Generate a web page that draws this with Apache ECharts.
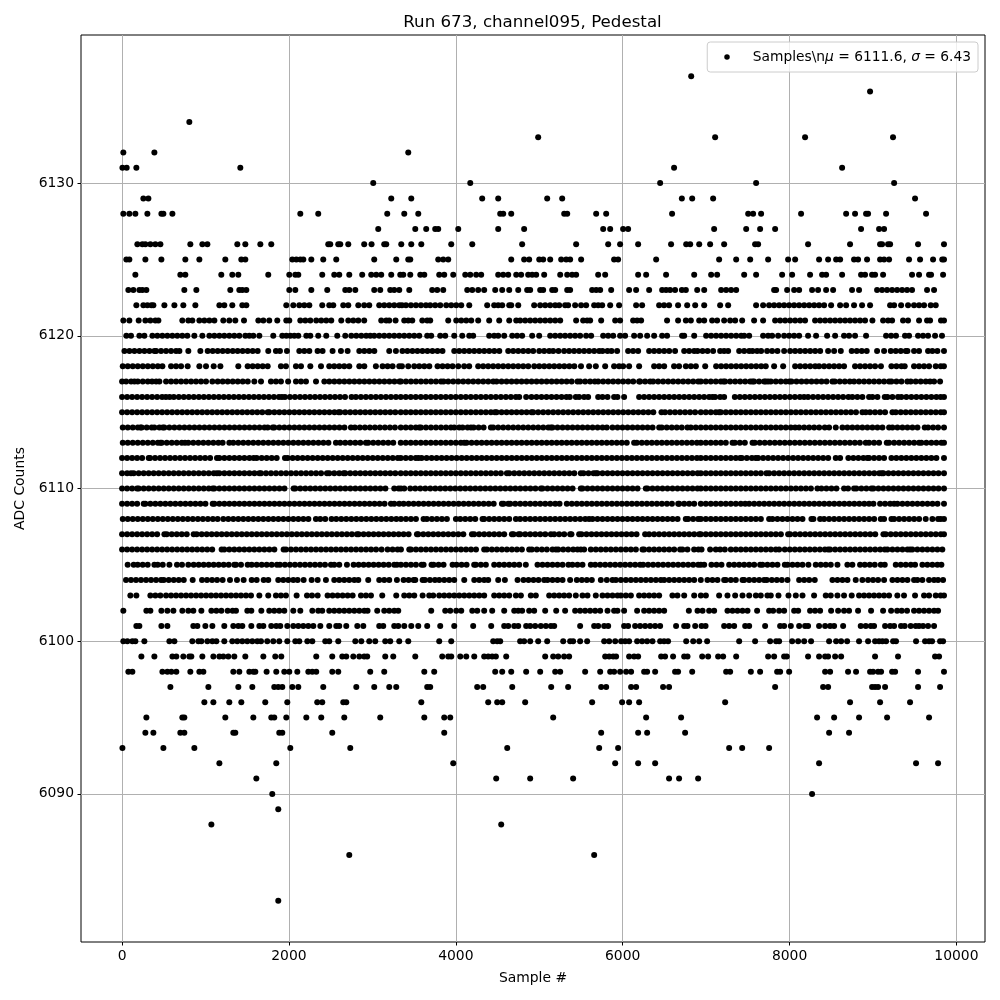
<!DOCTYPE html>
<html>
<head>
<meta charset="utf-8">
<title>Run 673, channel095, Pedestal</title>
<script src="https://cdn.jsdelivr.net/npm/echarts@6/dist/echarts.min.js"></script>
<style>
html,body{margin:0;padding:0;background:#fff;}
#chart{width:1000px;height:1000px;}
</style>
</head>
<body>
<div id="chart"></div>
<script>
// sample positions, one list per ADC level
var adc6137 = [6821];
var adc6136 = [8965];
var adc6134 = [806];
var adc6133 = [4987,7108,8186,9240];
var adc6132 = [15,387,3430];
var adc6131 = [4,55,171,1417,6616,8630];
var adc6130 = [3010,4173,6449,7599,9253];
var adc6129 = [255,315,3226,3466,4316,4508,5095,5275,6709,6833,7084,9504];
var adc6128 = [15,87,159,303,471,495,603,2136,2351,3178,3382,3550,4532,4568,4664,5299,5335,5682,5802,6592,7504,7563,7659,8138,8678,8785,8917,8941,9157,9636];
var adc6127 = [3070,3514,3645,3753,3789,4029,4508,4819,5766,5850,6005,6065,7096,7480,7647,7827,8857,9073,9133];
var adc6126 = [183,243,279,339,399,459,818,962,1022,1381,1477,1657,1788,2471,2495,2591,2615,2711,2902,2990,3142,3166,3346,3466,3586,3945,4197,4795,5442,5826,5969,6185,6580,6761,6809,6917,7048,7216,7587,7623,8222,8725,9085,9109,9181,9205,9540,9851];
var adc6125 = [51,87,279,471,758,926,1237,1429,1477,2040,2088,2136,2172,2268,2411,2567,3022,3286,3430,3454,3789,3849,3909,4664,4819,4879,5000,5047,5131,5263,5323,5370,5502,5897,5945,6401,7156,7360,7528,7743,7983,8067,8354,8462,8558,8606,8773,8821,8929,9085,9133,9193,9432,9564,9720,9830,9851];
var adc6124 = [159,698,758,1189,1321,1393,1752,2004,2076,2112,2399,2543,2603,2723,2878,2986,3046,3106,3226,3334,3370,3454,3574,3622,3801,3861,3969,4113,4173,4244,4304,4508,4568,4628,4724,4783,4867,4915,4963,5059,5251,5335,5394,5442,5706,5790,6185,6281,6520,6857,7060,7132,7456,7599,7911,8031,8246,8390,8438,8630,8857,8905,8989,9025,9121,9468,9552,9672,9696,9840];
var adc6123 = [75,135,207,243,291,746,890,1297,1405,1441,1489,2004,2076,2268,2459,2675,2723,2795,3022,3094,3214,3262,3322,3442,3717,3777,3849,4137,4197,4268,4340,4472,4556,4640,4748,4855,4891,5011,5047,5155,5191,5335,5370,5634,5682,5730,5862,6077,6161,6317,6473,6520,6568,6628,6709,6757,6893,6977,7180,7240,7300,7360,7815,7839,7971,8055,8115,8270,8342,8438,8522,8749,8833,9049,9109,9169,9229,9289,9349,9408,9468,9648,9732];
var adc6122 = [171,255,303,351,375,507,627,734,878,1166,1225,1321,1441,1489,1968,2052,2124,2184,2244,2399,2483,2531,2651,2711,2831,2902,2962,3082,3142,3202,3262,3322,3354,3402,3462,3522,3582,3642,3693,3753,3813,3885,3945,4005,4065,4161,4376,4460,4508,4556,4640,4664,4748,4939,5011,5071,5131,5191,5239,5310,5346,5430,5502,5562,5658,5706,5754,5850,5957,6161,6233,6437,6496,6556,6664,6773,6869,6977,7168,7264,7599,7683,7755,7815,7875,7935,7995,8055,8115,8175,8235,8295,8354,8414,8498,8606,8678,8773,8869,8965,9205,9253,9337,9420,9492,9552,9612,9692,9752];
var adc6121 = [15,87,199,279,339,399,435,722,794,842,926,986,1046,1106,1213,1285,1357,1461,1633,1693,1764,1860,1968,2004,2136,2196,2256,2327,2387,2447,2507,2627,2711,2771,2831,2902,3106,3166,3202,3278,3382,3430,3478,3598,3657,3693,3909,4005,4065,4125,4185,4268,4400,4520,4640,4724,4771,4831,4891,4951,5011,5071,5131,5191,5251,5442,5526,5574,5610,5742,5910,5969,6125,6173,6221,6532,6664,6757,6817,6917,6977,7072,7132,7216,7288,7348,7432,7575,7683,7827,7887,7947,8007,8067,8127,8186,8306,8366,8426,8486,8546,8606,8666,8725,8785,8845,8905,8993,9121,9181,9229,9360,9420,9552,9648,9684,9815,9851];
var adc6120 = [51,107,207,267,363,423,483,543,603,662,722,782,866,962,1046,1106,1166,1225,1285,1345,1405,1477,1525,1573,1645,1812,1920,1968,2016,2064,2112,2208,2256,2351,2447,2579,2675,2747,2807,2867,2926,2974,3022,3082,3142,3202,3262,3322,3382,3442,3502,3562,3657,3705,3813,3873,3981,4077,4161,4208,4400,4460,4508,4580,4676,4735,4795,4915,4999,5131,5191,5251,5310,5370,5430,5490,5562,5622,5766,5826,5886,5969,6029,6137,6209,6293,6377,6473,6532,6712,6737,6857,7000,7060,7120,7180,7240,7300,7360,7420,7456,7516,7683,7743,7791,7863,7935,7995,8055,8115,8222,8318,8450,8546,8653,8713,8785,8917,9157,9217,9276,9384,9432,9540,9600,9660,9744,9827];
var adc6119 = [28,88,148,208,268,328,388,408,467,527,587,647,687,794,938,1026,1086,1146,1206,1266,1326,1385,1445,1505,1565,1625,1752,1844,1892,1976,2124,2184,2244,2343,2403,2523,2623,2703,2843,2903,2963,3023,3202,3282,3360,3420,3480,3540,3600,3660,3720,3780,3840,3981,4041,4101,4161,4221,4281,4341,4401,4461,4521,4628,4688,4748,4808,4868,4927,5000,5059,5119,5167,5231,5298,5358,5418,5478,5538,5598,5658,5718,5758,5818,5866,5933,6065,6125,6185,6317,6377,6437,6497,6557,6628,6737,6797,6857,6897,6957,7017,7084,7168,7216,7264,7396,7456,7516,7556,7611,7659,7731,7791,7855,7935,8007,8067,8127,8187,8247,8307,8367,8462,8534,8614,8745,8805,8865,8925,9049,9133,9213,9273,9333,9393,9413,9492,9552,9660,9712,9772,9851];
var adc6118 = [8,68,128,188,248,308,368,428,483,587,647,707,786,926,1006,1098,1178,1393,1505,1565,1625,1685,1745,1904,1964,2084,2144,2256,2384,2483,2543,2603,2663,2723,2843,2903,3042,3122,3182,3242,3322,3354,3430,3502,3562,3622,3682,3781,3841,3901,3961,4029,4100,4160,4268,4328,4388,4448,4508,4568,4628,4688,4748,4808,4868,4940,5000,5060,5120,5180,5240,5300,5360,5420,5500,5598,5678,5790,5897,5957,6005,6077,6197,6377,6437,6497,6616,6676,6757,6817,6877,6989,7120,7180,7240,7300,7360,7420,7480,7540,7600,7660,7715,7815,7923,8067,8127,8187,8247,8307,8354,8414,8474,8534,8594,8653,8785,8845,8905,8965,9025,9095,9221,9281,9341,9380,9492,9552,9612,9672,9752,9812,9850];
var adc6117 = [0,48,108,148,188,248,308,359,408,447,527,587,647,707,767,827,886,946,1006,1082,1146,1206,1266,1326,1386,1446,1506,1585,1665,1784,1844,1904,1990,2084,2144,2204,2324,2424,2484,2544,2604,2664,2724,2784,2844,2904,2964,3024,3084,3144,3204,3264,3324,3342,3402,3462,3522,3582,3642,3702,3762,3822,3853,3909,3969,4029,4089,4149,4209,4269,4329,4389,4449,4488,4548,4608,4668,4728,4788,4848,4908,4968,5028,5088,5148,5208,5268,5328,5388,5458,5490,5550,5610,5666,5706,5766,5826,5886,5946,6006,6066,6126,6197,6209,6269,6329,6365,6425,6485,6545,6605,6665,6725,6785,6845,6905,6936,6996,7056,7116,7176,7208,7228,7288,7348,7408,7468,7528,7556,7575,7635,7695,7715,7743,7775,7835,7895,7955,7999,8023,8083,8143,8203,8263,8323,8383,8443,8514,8542,8602,8662,8722,8773,8833,8893,8953,9013,9073,9133,9193,9221,9281,9341,9412,9452,9512,9572,9632,9684,9732,9804];
var adc6116 = [0,60,120,180,240,300,360,420,480,525,570,620,680,740,800,860,920,980,1040,1100,1160,1220,1280,1340,1400,1460,1520,1580,1640,1700,1760,1820,1880,1916,1952,2012,2072,2132,2192,2252,2312,2372,2432,2492,2552,2612,2672,2750,2802,2862,2922,2982,3042,3102,3162,3222,3282,3340,3400,3460,3520,3580,3640,3700,3760,3820,3880,3940,4000,4060,4120,4180,4240,4300,4360,4420,4480,4540,4600,4660,4720,4760,4843,4907,4967,5027,5087,5147,5207,5267,5326,5366,5438,5478,5538,5586,5706,5758,5818,5897,5937,6017,6197,6257,6317,6377,6437,6497,6557,6617,6677,6737,6797,6857,6917,6976,7036,7076,7108,7168,7216,7344,7404,7464,7524,7584,7644,7704,7764,7824,7884,7944,8004,8064,8124,8174,8222,8282,8342,8402,8462,8522,8582,8642,8706,8753,8813,8873,8953,8993,9053,9141,9173,9233,9300,9340,9400,9460,9520,9580,9640,9700,9760,9811,9851];
var adc6115 = [0,60,120,180,240,300,360,420,480,540,600,660,720,780,840,900,960,1020,1080,1140,1200,1260,1320,1380,1440,1500,1560,1620,1680,1745,1765,1825,1885,1945,2005,2065,2125,2185,2245,2305,2365,2425,2485,2545,2595,2615,2675,2735,2795,2855,2915,2975,3035,3095,3155,3215,3275,3340,3400,3460,3520,3580,3640,3700,3760,3820,3880,3940,4000,4060,4120,4180,4240,4300,4360,4420,4468,4488,4548,4608,4668,4728,4788,4848,4907,4927,4987,5047,5107,5167,5227,5287,5347,5407,5467,5527,5587,5647,5707,5767,5827,5887,5947,6007,6067,6127,6187,6247,6307,6367,6465,6508,6568,6628,6688,6748,6808,6868,6936,6996,7056,7116,7156,7176,7236,7296,7356,7416,7476,7536,7596,7656,7716,7776,7836,7896,7956,8016,8076,8136,8196,8256,8316,8376,8436,8496,8556,8616,8676,8736,8796,8873,8913,8965,9025,9085,9145,9233,9273,9333,9393,9453,9513,9573,9633,9693,9753,9813,9851];
var adc6114 = [8,68,128,188,220,235,295,355,387,447,487,507,567,627,687,747,807,867,927,987,1047,1107,1167,1227,1287,1347,1407,1467,1527,1587,1647,1707,1745,1805,1825,1885,1945,2005,2065,2125,2185,2245,2305,2365,2425,2485,2545,2605,2665,2743,2790,2850,2910,2970,3030,3090,3150,3210,3270,3340,3400,3460,3520,3562,3582,3642,3702,3762,3822,3882,3941,3981,4041,4081,4141,4181,4213,4273,4333,4420,4448,4508,4568,4628,4688,4748,4808,4868,4928,4988,5048,5108,5139,5159,5219,5279,5339,5399,5459,5519,5579,5639,5699,5759,5810,5878,5938,5998,6058,6118,6178,6238,6298,6358,6437,6468,6528,6588,6648,6708,6776,6816,6876,6936,6996,7056,7116,7176,7236,7296,7356,7416,7476,7536,7596,7656,7716,7776,7836,7895,7955,8015,8067,8115,8175,8235,8295,8355,8422,8474,8554,8634,8693,8753,8813,8873,8933,8993,9053,9113,9193,9233,9293,9353,9413,9473,9533,9620,9660,9720,9780,9851];
var adc6113 = [8,68,128,188,248,308,368,428,459,475,535,595,655,715,754,794,854,914,974,1034,1094,1154,1205,1285,1333,1393,1453,1513,1573,1633,1693,1753,1813,1873,1933,1993,2053,2113,2173,2233,2293,2353,2413,2473,2563,2615,2675,2735,2795,2855,2922,2950,3010,3070,3130,3190,3250,3340,3400,3460,3520,3580,3640,3700,3760,3820,3880,3940,4000,4060,4101,4129,4189,4249,4309,4369,4429,4489,4549,4609,4669,4729,4789,4849,4909,4969,5029,5089,5149,5209,5269,5329,5389,5449,5509,5569,5629,5689,5749,5809,5869,5929,5989,6049,6137,6169,6229,6289,6349,6409,6469,6529,6589,6649,6709,6769,6829,6889,6936,6996,7056,7116,7176,7236,7316,7344,7404,7464,7556,7583,7643,7703,7763,7823,7883,7943,8003,8063,8123,8183,8243,8303,8363,8423,8483,8543,8603,8663,8723,8783,8843,8913,8953,9013,9073,9165,9193,9253,9313,9373,9433,9493,9552,9580,9640,9700,9760,9820,9851];
var adc6112 = [0,60,120,180,240,319,335,395,455,515,575,635,695,755,815,875,935,995,1055,1137,1166,1226,1286,1346,1406,1466,1526,1577,1613,1673,1733,1793,1853,1952,1984,2044,2104,2164,2224,2284,2344,2404,2464,2524,2584,2644,2704,2764,2824,2884,2944,3004,3064,3124,3184,3244,3304,3340,3400,3460,3520,3553,3590,3650,3710,3770,3830,3890,3950,4010,4070,4130,4190,4250,4310,4370,4430,4490,4550,4610,4670,4730,4790,4850,4910,4970,5030,5090,5150,5210,5270,5330,5390,5450,5510,5570,5630,5690,5750,5810,5870,5930,5990,6050,6110,6170,6230,6290,6350,6410,6470,6530,6590,6650,6710,6770,6830,6890,6936,6996,7056,7116,7176,7236,7296,7356,7408,7428,7488,7548,7595,7623,7683,7743,7803,7863,7923,7983,8043,8103,8163,8223,8283,8343,8403,8463,8554,8606,8705,8765,8825,8885,8933,8953,9013,9073,9133,9221,9280,9340,9400,9460,9520,9580,9640,9700,9760,9851];
var adc6111 = [0,60,107,139,199,259,319,379,439,499,559,619,679,739,799,859,919,979,1039,1099,1137,1166,1226,1286,1346,1406,1466,1526,1586,1645,1665,1725,1785,1845,1905,1965,2025,2085,2145,2205,2265,2325,2385,2455,2483,2543,2603,2655,2675,2735,2795,2855,2915,2975,3035,3095,3155,3215,3275,3340,3400,3460,3520,3580,3640,3700,3760,3820,3880,3940,4000,4060,4120,4180,4240,4300,4360,4420,4480,4540,4612,4640,4700,4760,4820,4880,4940,5000,5060,5120,5180,5240,5300,5360,5420,5498,5530,5590,5650,5678,5698,5758,5818,5878,5938,5998,6058,6118,6178,6238,6298,6358,6418,6478,6538,6598,6658,6718,6778,6838,6898,6936,6996,7056,7116,7176,7236,7296,7356,7416,7476,7536,7596,7656,7723,7755,7815,7875,7935,7995,8055,8115,8175,8235,8295,8355,8415,8475,8535,8595,8655,8715,8775,8835,8895,8955,9015,9075,9105,9125,9185,9245,9305,9365,9425,9485,9545,9605,9665,9725,9785,9851];
var adc6110 = [0,60,120,179,199,259,319,379,439,499,559,619,679,739,799,859,919,979,1039,1086,1106,1166,1226,1286,1346,1406,1466,1526,1586,1646,1706,1766,1826,1886,1946,2056,2076,2136,2196,2256,2316,2376,2436,2496,2556,2616,2676,2736,2796,2856,2916,2976,3036,3096,3156,3262,3314,3342,3382,3454,3514,3574,3634,3694,3754,3814,3874,3934,3994,4054,4114,4174,4234,4294,4354,4414,4474,4534,4594,4654,4714,4774,4834,4894,4954,5019,5039,5099,5159,5219,5279,5339,5399,5498,5518,5578,5638,5698,5758,5818,5878,5938,5998,6058,6118,6178,6277,6297,6357,6417,6477,6537,6597,6657,6717,6777,6837,6897,6936,6996,7056,7116,7176,7236,7296,7356,7416,7476,7536,7596,7656,7716,7776,7836,7896,7956,8016,8076,8136,8196,8256,8334,8382,8442,8502,8562,8653,8701,8773,8801,8861,8921,8981,9005,9065,9125,9185,9245,9305,9365,9425,9485,9545,9605,9665,9725,9785,9851];
var adc6109 = [0,60,120,180,259,279,339,399,459,519,579,639,699,759,819,879,939,999,1086,1106,1166,1226,1286,1346,1406,1466,1526,1586,1646,1706,1766,1826,1886,1946,2006,2066,2126,2186,2246,2306,2366,2426,2486,2546,2606,2666,2726,2786,2846,2906,2966,3026,3086,3146,3222,3262,3322,3374,3434,3494,3554,3614,3674,3734,3794,3854,3914,3974,4034,4094,4154,4214,4274,4334,4394,4454,4552,4572,4628,4652,4712,4772,4832,4892,4952,5012,5072,5132,5192,5243,5330,5390,5450,5510,5570,5630,5690,5750,5810,5870,5930,5990,6050,6110,6170,6230,6290,6350,6410,6470,6530,6590,6665,6677,6737,6797,6857,6936,6996,7056,7116,7176,7236,7296,7356,7416,7468,7516,7576,7636,7696,7756,7816,7876,7936,7996,8056,8116,8176,8236,8296,8356,8416,8476,8536,8596,8656,8716,8776,8836,8896,8953,9005,9085,9145,9205,9253,9293,9353,9413,9473,9533,9593,9653,9713,9773,9851];
var adc6108 = [8,68,128,188,248,308,368,428,488,548,608,668,728,788,848,908,968,1028,1088,1145,1213,1273,1333,1393,1453,1513,1573,1633,1693,1753,1813,1873,1933,1993,2053,2113,2173,2233,2323,2375,2435,2511,2567,2627,2687,2747,2807,2867,2927,2987,3047,3107,3167,3227,3287,3342,3402,3462,3522,3613,3653,3713,3773,3833,3893,4001,4053,4113,4173,4233,4320,4340,4400,4460,4520,4580,4640,4720,4771,4831,4891,4951,5011,5071,5131,5191,5251,5311,5371,5431,5491,5551,5598,5638,5698,5758,5818,5878,5938,5998,6058,6118,6178,6238,6298,6358,6418,6478,6538,6598,6658,6756,6784,6844,6904,6936,6996,7056,7116,7176,7236,7296,7356,7416,7476,7536,7596,7656,7755,7795,7855,7915,7975,8035,8095,8155,8262,8286,8366,8414,8474,8534,8594,8654,8714,8774,8834,8894,8954,9014,9093,9133,9221,9253,9313,9373,9433,9493,9553,9632,9712,9780,9812,9851];
var adc6107 = [0,60,120,180,240,300,360,420,507,535,595,655,715,775,858,894,954,1014,1074,1134,1194,1254,1314,1374,1434,1494,1554,1614,1674,1734,1794,1854,1914,1974,2034,2094,2154,2214,2274,2334,2394,2454,2514,2574,2634,2694,2754,2815,2835,2895,2955,3015,3075,3135,3195,3255,3315,3374,3434,3534,3550,3610,3670,3730,3790,3850,3910,3970,4030,4090,4193,4220,4280,4340,4400,4460,4520,4580,4672,4692,4752,4772,4832,4892,4952,5012,5072,5139,5179,5239,5299,5370,5386,5478,5506,5566,5626,5686,5746,5806,5866,5926,5986,6046,6106,6166,6269,6317,6377,6437,6497,6557,6617,6677,6737,6797,6857,6917,6936,6996,7056,7116,7176,7236,7296,7356,7416,7476,7536,7596,7656,7716,7776,7836,7896,7983,8007,8067,8127,8187,8247,8307,8367,8427,8487,8547,8607,8667,8727,8787,8847,8907,8967,9027,9125,9153,9213,9273,9333,9393,9453,9513,9573,9633,9693,9753,9813,9851];
var adc6106 = [0,60,120,180,240,300,360,420,480,540,600,660,720,780,840,900,960,1020,1080,1193,1225,1285,1345,1405,1465,1525,1585,1645,1705,1765,1825,1936,1964,2024,2084,2144,2204,2264,2324,2384,2444,2504,2564,2624,2684,2744,2804,2864,2924,2984,3044,3110,3182,3242,3302,3342,3442,3462,3522,3582,3642,3702,3762,3822,3882,3942,4002,4062,4122,4182,4242,4340,4372,4432,4492,4552,4612,4672,4732,4792,4879,4911,4971,5031,5091,5159,5199,5227,5287,5347,5407,5458,5498,5538,5618,5678,5738,5798,5858,5918,5978,6038,6098,6158,6237,6257,6317,6377,6437,6497,6557,6617,6688,6716,6776,6856,6908,6945,7048,7116,7168,7224,7296,7356,7416,7476,7536,7596,7656,7716,7776,7835,7875,7943,8003,8063,8123,8183,8243,8303,8363,8423,8462,8486,8546,8606,8666,8726,8786,8846,8906,8966,9026,9086,9141,9173,9233,9293,9353,9413,9444,9472,9532,9592,9652,9712,9772,9831];
var adc6105 = [67,139,187,247,307,387,427,487,567,658,718,794,858,918,978,1038,1098,1158,1218,1278,1345,1365,1425,1505,1553,1613,1673,1733,1793,1856,1892,1952,2012,2072,2132,2192,2252,2312,2372,2432,2503,2543,2603,2695,2775,2835,2895,2955,3015,3075,3135,3195,3262,3294,3342,3402,3462,3522,3590,3614,3709,3733,3793,3853,3961,4009,4069,4129,4220,4240,4300,4360,4460,4520,4580,4640,4700,4760,4839,4979,5039,5099,5159,5219,5279,5350,5398,5458,5518,5618,5670,5730,5790,5850,5910,5970,6030,6090,6150,6209,6245,6305,6365,6425,6485,6545,6605,6665,6725,6785,6845,6905,6936,6977,7064,7124,7184,7276,7336,7396,7456,7516,7576,7647,7675,7735,7795,7855,7943,7975,8035,8095,8155,8226,8314,8374,8434,8494,8574,8693,8753,8845,8901,8961,9021,9093,9141,9273,9333,9393,9453,9504,9592,9652,9712,9772,9820];
var adc6104 = [47,107,167,227,287,347,407,467,499,559,619,679,739,846,958,1018,1078,1138,1205,1293,1377,1457,1553,1613,1697,1752,1872,1932,1992,2052,2104,2176,2272,2344,2443,2543,2603,2663,2723,2783,2831,2950,3082,3142,3202,3294,3374,3434,3494,3514,3602,3630,3690,3750,3801,3861,3921,3981,4101,4221,4281,4340,4388,4508,4588,4740,4811,4871,4931,4991,5059,5099,5159,5219,5279,5370,5450,5510,5570,5630,5738,5810,5878,5918,5978,6038,6098,6158,6218,6278,6338,6398,6457,6497,6557,6617,6677,6737,6797,6857,6936,7016,7076,7136,7216,7236,7296,7356,7436,7456,7516,7576,7636,7695,7727,7787,7847,7907,7975,8115,8175,8235,8302,8514,8574,8634,8694,8793,8873,8941,9001,9061,9133,9233,9293,9353,9413,9492,9532,9592,9672,9732,9780,9840];
var adc6103 = [99,171,339,399,459,527,587,647,707,767,827,887,947,1007,1067,1126,1186,1246,1306,1366,1425,1485,1545,1645,1752,1844,1904,1964,2092,2216,2276,2344,2463,2523,2583,2643,2703,2763,2863,2923,2983,3118,3286,3382,3442,3502,3602,3681,3729,3801,3861,3921,3981,4041,4101,4161,4221,4281,4340,4460,4520,4580,4640,4720,4780,4899,4959,5119,5179,5239,5298,5358,5438,5518,5578,5678,5758,5818,5878,5938,5978,6038,6098,6197,6257,6317,6377,6437,6596,6656,6737,6857,6937,6997,7156,7256,7348,7436,7516,7596,7655,7735,7775,7867,7987,8075,8155,8294,8434,8494,8574,8653,8745,8833,8893,8953,9013,9073,9133,9193,9292,9372,9504,9612,9672,9752,9811,9851];
var adc6102 = [15,291,339,471,543,615,722,794,854,950,1070,1130,1190,1265,1325,1365,1501,1549,1669,1764,1824,1884,1944,2052,2136,2280,2351,2399,2483,2543,2603,2663,2723,2783,2843,2903,2942,3058,3142,3202,3262,3310,3705,3873,3933,4005,4065,4197,4257,4340,4436,4580,4700,4748,4795,4879,4939,5071,5203,5310,5430,5490,5550,5610,5670,5730,5818,5897,5937,6017,6173,6257,6317,6377,6437,6497,6793,6897,6957,7036,7096,7256,7316,7376,7436,7496,7611,7755,7803,7875,7935,8055,8103,8246,8306,8366,8498,8582,8653,8713,8821,8977,9121,9217,9289,9344,9408,9492,9552,9612,9672,9732,9780];
var adc6101 = [171,207,471,543,854,902,998,1082,1225,1333,1393,1441,1549,1645,1693,1788,1848,1896,1980,2052,2112,2172,2232,2292,2376,2483,2567,2603,2687,2819,2891,3082,3130,3262,3310,3382,3466,3550,3657,3813,3981,4208,4424,4580,4628,4700,4748,4843,4891,4951,5019,5079,5139,5179,5490,5658,5706,5778,5826,6017,6065,6149,6209,6269,6329,6389,6449,6640,6737,6777,6869,6945,6993,7216,7276,7336,7468,7516,7707,7887,7935,8015,8115,8186,8222,8354,8426,8486,8534,8642,8853,8913,8973,9013,9145,9205,9253,9336,9380,9452,9512,9552,9600,9660,9732];
var adc6100 = [15,63,123,159,267,567,627,842,914,950,1022,1082,1130,1225,1321,1381,1441,1501,1561,1621,1665,1740,1812,1884,1980,2076,2124,2220,2280,2435,2483,2591,2795,2867,2962,3034,3154,3214,3322,3430,3801,3945,4448,4496,4532,4771,4819,4891,4987,5095,5287,5370,5406,5490,5574,5778,5838,5910,5981,6029,6077,6173,6233,6293,6357,6449,6496,6544,6761,6845,6917,7012,7396,7587,7767,7839,7875,8031,8103,8175,8258,8474,8558,8618,8690,8833,8941,9025,9073,9113,9157,9241,9276,9516,9624,9672,9708,9804,9840];
var adc6099 = [231,387,603,650,734,806,830,962,1094,1166,1213,1273,1345,1477,1693,1836,1908,2327,2519,2639,2687,2771,2843,2902,2938,3154,3250,3514,3837,3909,3945,4053,4125,4221,4340,4388,4436,4480,4604,5071,5167,5227,5298,5358,5790,5838,5886,5921,6077,6137,6185,6461,6508,6604,6737,6777,6953,7024,7144,7204,7360,7743,7815,7935,7967,8222,8354,8426,8462,8546,8618,9025,9300,9744,9792];
var adc6098 = [75,123,483,543,591,650,818,926,974,1333,1405,1525,1573,1597,1732,1848,1944,2004,2100,2232,2280,2327,2519,2591,2974,3142,3622,3741,4472,4556,4664,4843,5011,5191,5251,5550,5730,5850,5897,5969,6041,6101,6257,6293,6389,6628,6664,6833,7240,7288,7536,7647,7851,7887,7995,8426,8486,8701,8797,8965,9001,9061,9097,9229,9265,9540,9851];
var adc6097 = [579,1034,1393,1561,1824,1872,1920,2040,2112,2411,2807,3022,3202,3286,3657,3693,4256,4328,4676,5143,5346,5742,5802,6101,6161,6484,6556,7827,8402,8462,8989,9025,9061,9145,9540,9804];
var adc6096 = [986,1094,1285,1429,1716,1980,2339,2399,2651,2687,3586,4388,4496,4556,4831,5634,5993,6077,6197,7228,8725,9085,9444];
var adc6095 = [291,722,746,1237,1573,1788,1824,1968,2208,2387,2663,3094,3622,3861,3933,5167,6281,6700,8330,8534,8833,9169,9672];
var adc6094 = [279,375,698,746,1333,1357,1884,1920,2519,3861,5742,6185,6293,6748,8474,8713];
var adc6093 = [4,495,866,2016,2735,4616,5718,5945,7276,7432,7755];
var adc6092 = [1166,1848,3969,5910,6185,6389,8354,9516,9780];
var adc6091 = [1609,4484,4891,5406,6556,6676,6904];
var adc6090 = [1800,8270];
var adc6089 = [1872];
var adc6088 = [1070,4544];
var adc6086 = [2723,5658];
var adc6083 = [1872];

var levels = [6137,6136,6134,6133,6132,6131,6130,6129,6128,6127,6126,6125,6124,6123,6122,6121,6120,6119,6118,6117,6116,6115,6114,6113,6112,6111,6110,6109,6108,6107,6106,6105,6104,6103,6102,6101,6100,6099,6098,6097,6096,6095,6094,6093,6092,6091,6090,6089,6088,6086,6083];
var samples = [adc6137,adc6136,adc6134,adc6133,adc6132,adc6131,adc6130,adc6129,adc6128,adc6127,adc6126,adc6125,adc6124,adc6123,adc6122,adc6121,adc6120,adc6119,adc6118,adc6117,adc6116,adc6115,adc6114,adc6113,adc6112,adc6111,adc6110,adc6109,adc6108,adc6107,adc6106,adc6105,adc6104,adc6103,adc6102,adc6101,adc6100,adc6099,adc6098,adc6097,adc6096,adc6095,adc6094,adc6093,adc6092,adc6091,adc6090,adc6089,adc6088,adc6086,adc6083];
var xTicks = [0,2000,4000,6000,8000,10000];
var yTicks = [6090,6100,6110,6120,6130];

var points = [];
for(var i=0;i<levels.length;i++){
    for(var j=0;j<samples[i].length;j++){
        points.push([samples[i][j],levels[i]]);
    }
}

var fontName = '"DejaVu Sans"';
function plainNumber(v){
    return String(v);
}
var chart = echarts.init(document.getElementById('chart'));
chart.setOption({
    animation: false,
    backgroundColor: '#fff',
    textStyle: {fontFamily: fontName, color: '#000'},
    title: {
        text: 'Run 673, channel095, Pedestal',
        left: 527.5,
        top: 9,
        textAlign: 'center',
        textStyle: {fontFamily: fontName, fontSize: 16.67, fontWeight: 'normal', color: '#000'}
    },
    grid: {left: 81, top: 35, width: 904, height: 907, show: true, borderColor: '#000', borderWidth: 1, backgroundColor: 'transparent'},
    legend: {
        top: 42,
        right: 22,
        orient: 'horizontal',
        icon: 'circle',
        itemWidth: 5.5,
        itemHeight: 5.5,
        backgroundColor: 'rgba(255,255,255,0.8)',
        borderColor: '#ccc',
        borderWidth: 1,
        borderRadius: 3,
        padding: [8, 7, 8, 17],
        formatter: function(){
            return '{g| }{r|Samples\\n}{i|μ}{r| = 6111.6, }{i|σ}{r| = 6.43}';
        },
        textStyle: {
            rich: {
                g: {width: 18},
                r: {fontFamily: fontName, fontSize: 13.8, color: '#000'},
                i: {fontFamily: fontName, fontSize: 13.8, fontStyle: 'italic', color: '#000'}
            }
        }
    },
    xAxis: {
        type: 'value',
        min: -492.5,
        max: 10342.5,
        name: 'Sample #',
        nameLocation: 'middle',
        nameGap: 29,
        nameTextStyle: {fontFamily: fontName, fontSize: 13.9, color: '#000'},
        axisLine: {show: false, onZero: false},
        axisTick: {show: true, length: 3.5, lineStyle: {color: '#000', width: 1}, customValues: xTicks},
        axisLabel: {fontFamily: fontName, fontSize: 13.9, color: '#000', margin: 7, customValues: xTicks, formatter: plainNumber},
        splitLine: {show: true, lineStyle: {color: '#b0b0b0', width: 1}}
    },
    yAxis: {
        type: 'value',
        min: 6080.3,
        max: 6139.7,
        name: 'ADC Counts',
        nameLocation: 'middle',
        nameGap: 51,
        nameTextStyle: {fontFamily: fontName, fontSize: 13.9, color: '#000'},
        axisLine: {show: false, onZero: false},
        axisTick: {show: true, length: 3.5, lineStyle: {color: '#000', width: 1}, customValues: yTicks},
        axisLabel: {fontFamily: fontName, fontSize: 13.9, color: '#000', margin: 7, customValues: yTicks, formatter: plainNumber},
        splitLine: {show: true, lineStyle: {color: '#b0b0b0', width: 1}}
    },
    series: [{
        name: 'Samples',
        type: 'scatter',
        symbol: 'circle',
        symbolSize: 6,
        silent: true,
        itemStyle: {color: '#000', opacity: 1},
        data: points
    }]
});
</script>
</body>
</html>
